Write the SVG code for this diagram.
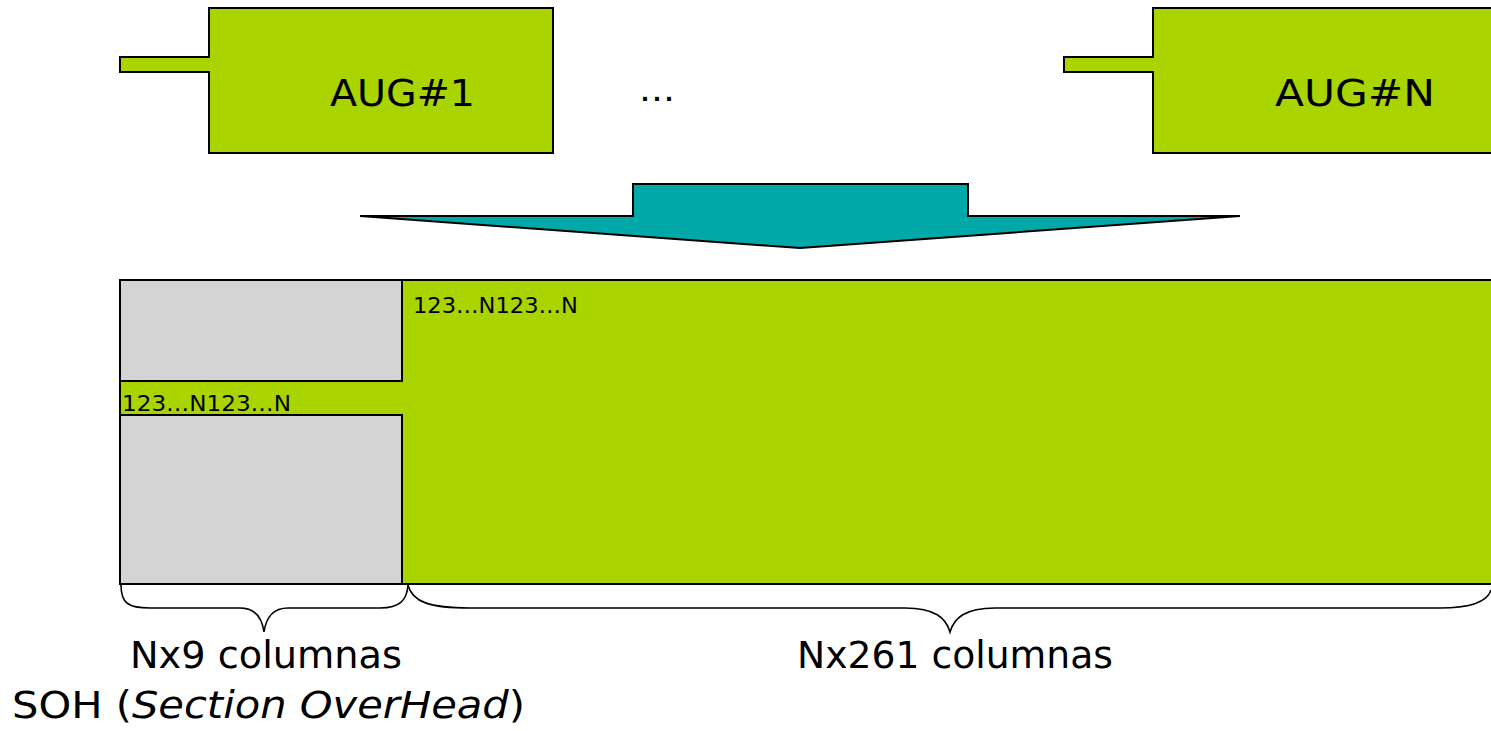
<svg xmlns="http://www.w3.org/2000/svg" width="1491" height="731" viewBox="0 0 1491 731">
<style>
.g{fill:#AAD400;stroke:#000;stroke-width:2}
.gr{fill:#D4D4D4;stroke:#000;stroke-width:2}
.t{font-family:"Comic Sans MS","DejaVu Sans",sans-serif;fill:#000}
.br{fill:none;stroke:#000;stroke-width:1.6}
</style>
<rect width="1491" height="731" fill="#fff"/>
<g id="aug1">
<path class="g" d="M120,57 H209 V8 H553 V153 H209 V72 H120 Z"/>
<text class="t" x="330" y="106" font-size="38" textLength="145" lengthAdjust="spacingAndGlyphs">AUG#1</text>
</g>
<g id="dots">
<text class="t" x="639" y="101" font-size="34" textLength="36" lengthAdjust="spacingAndGlyphs">...</text>
</g>
<g id="augN">
<path class="g" d="M1064,57 H1153 V8 H1495 V153 H1153 V72 H1064 Z"/>
<text class="t" x="1275" y="106" font-size="38" textLength="160" lengthAdjust="spacingAndGlyphs">AUG#N</text>
</g>
<g id="connectors">
<path d="M360,216 H633 V184 H968 V216 H1240 L800,248 Z" fill="#00A8A8" stroke="#000" stroke-width="2" stroke-linejoin="miter"/>
</g>
<g id="frame">
<rect class="g" x="120" y="280" width="1375" height="304"/>
<rect class="gr" x="120" y="280" width="282" height="101"/>
<rect class="gr" x="120" y="415" width="282" height="169"/>
<text class="t" x="413" y="313" font-size="21" textLength="165" lengthAdjust="spacingAndGlyphs">123…N123…N</text>
<text class="t" x="122" y="411" font-size="21" textLength="169" lengthAdjust="spacingAndGlyphs">123…N123…N</text>
</g>
<g id="brace-soh">
<path class="br" d="M121,585 C121,603 128,608 150,608 H240 C256,608 262,618 264,632 C266,618 272,608 288,608 H380 C400,608 407,600 408,585"/>
<text class="t" x="130" y="668" font-size="37" textLength="272" lengthAdjust="spacingAndGlyphs">Nx9 columnas</text>
<text class="t" x="12" y="718" font-size="37" textLength="513" lengthAdjust="spacingAndGlyphs">SOH (<tspan font-style="italic">Section OverHead</tspan>)</text>
</g>
<g id="brace-payload">
<path class="br" d="M408,585 C412,602 430,608 470,608 H905 C935,608 946,618 950,632 C954,618 965,608 995,608 H1440 C1475,608 1488,600 1491,590"/>
<text class="t" x="797" y="668" font-size="37" textLength="316" lengthAdjust="spacingAndGlyphs">Nx261 columnas</text>
</g>
</svg>
